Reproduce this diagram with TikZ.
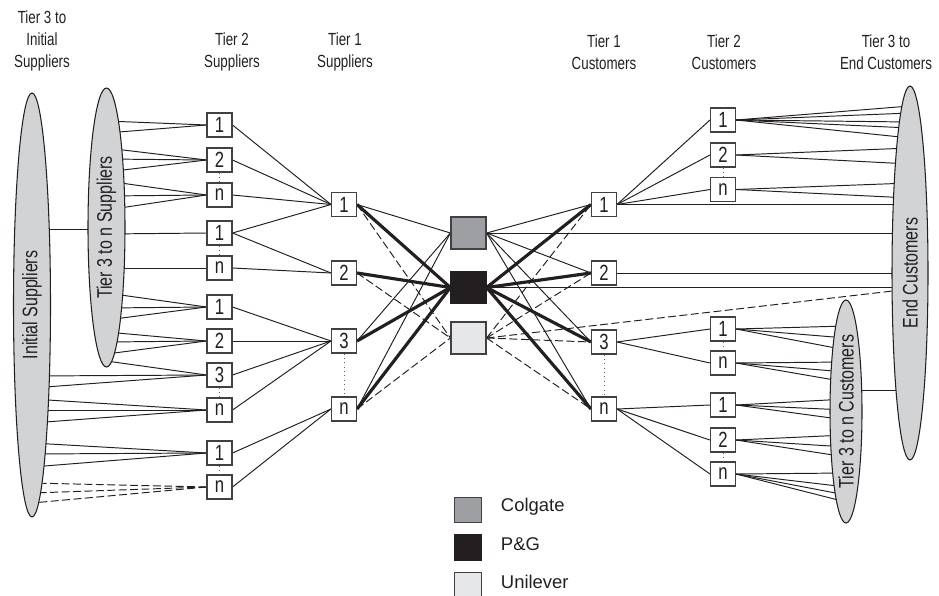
\documentclass[tikz,border=0pt]{standalone}
\usepackage{fontspec}
\setmainfont{Liberation Sans}
\newfontfamily\condfont[FakeStretch=0.76]{Liberation Sans}
\usetikzlibrary{positioning,shapes.geometric,backgrounds}
\definecolor{ink}{HTML}{231F20}
\definecolor{rim}{HTML}{414042}
\definecolor{ovalgray}{HTML}{D1D3D4}
\definecolor{colgategray}{HTML}{9D9FA2}
\definecolor{unilevergray}{HTML}{E6E7E8}

\begin{document}
\begin{tikzpicture}[
    x=0.02cm, y=-0.02cm,
    every node/.style={text=ink},
    head/.style={align=center, font=\condfont\fontsize{10}{12.5}\selectfont},
    tier/.style={draw=rim, fill=white, line width=0.6pt, minimum width=0.5cm, minimum height=0.48cm, inner sep=0pt, font=\condfont\fontsize{12.5}{13}\selectfont},
    firm/.style={draw=rim, line width=0.7pt, minimum width=0.7cm, minimum height=0.64cm, inner sep=0pt},
    key/.style={draw=rim, line width=0.7pt, minimum width=0.54cm, minimum height=0.5cm, inner sep=0pt},
    keytext/.style={inner sep=0pt, font=\fontsize{10.5}{12}\selectfont},
    oval/.style={ellipse, draw=ink, fill=ovalgray, line width=0.6pt, inner sep=0pt, rotate=90, font=\condfont\fontsize{12}{13}\selectfont},
    ln/.style={draw=ink, line width=0.55pt},
    thk/.style={draw=ink, line width=1.8pt},
    dsh/.style={draw=ink, line width=0.55pt, dash pattern=on 4.5pt off 2pt},
    gap/.style={draw=ink!70, line width=0.5pt, dotted}
  ]
  \useasboundingbox (0,0) rectangle (939,595);

  % column heads
  \node[head] (hinit) at (42,41) {Tier 3 to\\Initial\\Suppliers};
  \node[head] (hs2) at (232,52) {Tier 2\\Suppliers};
  \node[head] (hs1) at (345,52) {Tier 1\\Suppliers};
  \node[head] (hc1) at (604,52) {Tier 1\\Customers};
  \node[head] (hc2) at (724,52) {Tier 2\\Customers};
  \node[head] (hend) at (886,52) {Tier 3 to\\End Customers};

  % ovals
  \node[oval, minimum width=8.48cm, minimum height=0.74cm] (inis) at (32,305) {Initial Suppliers};
  \node[oval, minimum width=5.58cm, minimum height=0.74cm] (t3s) at (106.5,227.5) {Tier 3 to n Suppliers};
  \node[oval, minimum width=7.48cm, minimum height=0.72cm] (endc) at (910,273) {End Customers};
  \node[oval, minimum width=4.46cm, minimum height=0.64cm] (t3c) at (846,411.5) {Tier 3 to n Customers};

  % tier boxes
  \foreach \nm/\lb/\yy in {s2a/1/125, s2b/2/160, s2c/n/195, s2d/1/233, s2e/n/268, s2f/1/307,
                           s2g/2/341, s2h/3/375, s2i/n/410, s2j/1/453, s2k/n/487}
    \node[tier] (\nm) at (219.5,\yy) {\lb};
  \foreach \nm/\lb/\yy in {s1a/1/204.5, s1b/2/273, s1c/3/341, s1d/n/409}
    \node[tier] (\nm) at (344,\yy) {\lb};
  \foreach \nm/\lb/\yy in {c1a/1/204.5, c1b/2/273, c1c/3/342, c1d/n/409}
    \node[tier] (\nm) at (604,\yy) {\lb};
  \foreach \nm/\lb/\yy in {c2a/1/120, c2b/2/155, c2c/n/189.5, c2d/1/329, c2e/n/363,
                           c2f/1/405, c2g/2/440, c2h/n/474}
    \node[tier] (\nm) at (723,\yy) {\lb};

  % manufacturers
  \node[firm, fill=colgategray] (colg) at (468.5,233) {};
  \node[firm, fill=ink, draw=ink] (pg) at (468.5,287.5) {};
  \node[firm, fill=unilevergray] (unil) at (468.5,338) {};

  % legend
  \node[key, fill=colgategray] (kcol) at (468,510) {};
  \node[key, fill=ink, draw=ink] (kpg) at (468,547.5) {};
  \node[key, fill=unilevergray] (kuni) at (468,585) {};
  \node[keytext, right=0.37cm of kcol, yshift=2pt] (tcol) {Colgate};
  \node[keytext, right=0.37cm of kpg, yshift=2pt] (tpg) {P\&G};
  \node[keytext, right=0.37cm of kuni, yshift=2pt] (tuni) {Unilever};

  \begin{scope}[on background layer]
    \draw[ln] (inis.center |- 0,229) -- (t3s.center |- 0,229);
    \draw[ln] (t3c.center |- 0,390) -- (endc.center |- 0,390);

    % suppliers side
    \foreach \src/\yy in {s2a/121, s2a/133, s2b/148, s2b/159, s2b/172, s2c/181, s2c/196, s2c/210,
                          s2d/234, s2e/268, s2f/293, s2f/308, s2f/320, s2g/332, s2g/342, s2g/354, s2h/361}
      \draw[ln] (\src.west) -- (t3s.center |- 0,\yy);
    \foreach \src/\yy in {s2h/376, s2h/388, s2i/399, s2i/410, s2i/423, s2j/443, s2j/454, s2j/467}
      \draw[ln] (\src.west) -- (inis.center |- 0,\yy);
    \foreach \yy in {483, 493, 503}
      \draw[dsh] (s2k.west) -- (inis.center |- 0,\yy);

    \foreach \src/\dst in {s2a/s1a, s2b/s1a, s2c/s1a, s2d/s1a, s2d/s1b, s2e/s1b,
                           s2f/s1c, s2g/s1c, s2h/s1c, s2i/s1c, s2j/s1d, s2k/s1d}
      \draw[ln] (\src.east) -- (\dst.west);

    \foreach \src in {s1a, s1c, s1d} \draw[ln] (\src.east) -- (colg.west);
    \foreach \src in {s1a, s1b, s1c, s1d} \draw[thk] (\src.east) -- (pg.west);
    \foreach \src in {s1a, s1b, s1d} \draw[dsh] (\src.east) -- (unil.west);

    % customers side
    \foreach \dst in {c1a, c1b, c1c, c1d} {
      \draw[ln] (colg.east) -- (\dst.west);
      \draw[thk] (pg.east) -- (\dst.west);
      \draw[dsh] (unil.east) -- (\dst.west);
    }
    \foreach \src in {colg, pg, c1a, c1b}
      \draw[ln] (\src.east) -- (endc.center |- \src.east);
    \draw[dsh] (unil.east) -- (endc.center |- 0,289);

    \foreach \src/\dst in {c1a/c2a, c1a/c2b, c1a/c2c, c1c/c2d, c1c/c2e, c1d/c2f, c1d/c2g, c1d/c2h}
      \draw[ln] (\src.east) -- (\dst.west);

    \foreach \src/\yy in {c2a/106, c2a/113, c2a/122, c2a/128, c2a/138, c2b/148, c2b/164, c2c/183, c2c/198}
      \draw[ln] (\src.east) -- (endc.center |- 0,\yy);
    \foreach \src/\yy in {c2d/326, c2d/338, c2d/350, c2e/362, c2e/372, c2e/382, c2f/399, c2f/410, c2f/420,
                          c2g/435, c2g/447, c2g/457, c2h/473, c2h/487, c2h/495, c2h/502}
      \draw[ln] (\src.east) -- (t3c.center |- 0,\yy);
  \end{scope}

  % elided boxes
  \foreach \upper/\lower in {s2b/s2c, s2d/s2e, s2h/s2i, s2j/s2k, s1c/s1d, c1c/c1d, c2b/c2c, c2d/c2e, c2g/c2h}
    \draw[gap] (\upper.south) -- (\lower.north);
\end{tikzpicture}
\end{document}
